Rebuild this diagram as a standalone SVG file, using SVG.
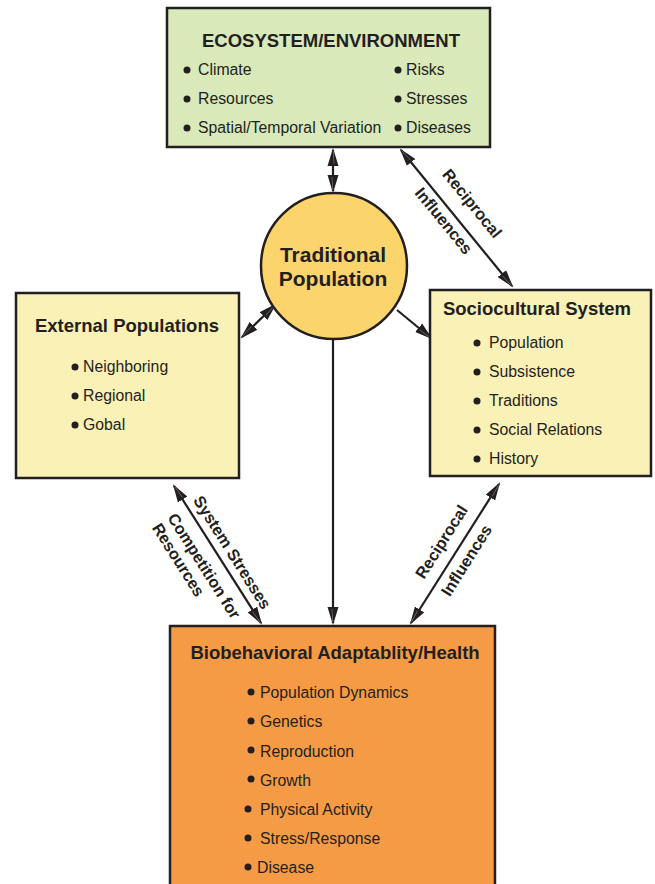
<svg xmlns="http://www.w3.org/2000/svg" width="655" height="884" viewBox="0 0 655 884">
  <style>
    .box { stroke: #231f20; stroke-width: 2.5; }
    .title { font-family: "Liberation Sans", Arial, sans-serif; font-weight: bold; font-size: 18.5px; fill: #231f20; text-anchor: middle; }
    .item { font-family: "Liberation Sans", Arial, sans-serif; font-size: 15.8px; fill: #231f20; }
    .dot { fill: #231f20; }
    .lbl { font-family: "Liberation Sans", Arial, sans-serif; font-weight: bold; font-size: 16.3px; fill: #231f20; }
    .link { stroke: #231f20; stroke-width: 2.2; fill: none; }
    .one { marker-end: url(#head); }
    .both { marker-start: url(#head); marker-end: url(#head); }
  </style>
  <defs>
    <marker id="head" viewBox="0 0 18 12" markerWidth="18" markerHeight="12" refX="16" refY="6" orient="auto-start-reverse" markerUnits="userSpaceOnUse">
      <path d="M0,0.5 L18,6 L0,11.5 Z" fill="#231f20"/>
      <path d="M2,7 L15,6.2" stroke="#8a8788" stroke-width="0.6"/>
    </marker>
  </defs>

  <rect width="655" height="884" fill="#ffffff"/>

  <g id="connectors">
    <path class="link both" d="M333,150 L333,191"/>
    <path class="link both" d="M401,150 L512,286"/>
    <path class="link one" d="M397,310 L431,338"/>
    <path class="link both" d="M275,305 L242,337"/>
    <path class="link one" d="M333,340 L333,623"/>
    <path class="link both" d="M174,486 L261,623"/>
    <path class="link both" d="M499,484 L411,623"/>
  </g>

  <g id="ecosystem">
    <rect class="box" x="167" y="8" width="323" height="139" fill="#d9e9ba"/>
    <text class="title" x="331" y="47">ECOSYSTEM/ENVIRONMENT</text>
    <circle class="dot" cx="187" cy="70" r="3.5"/>
    <text class="item" x="198" y="75">Climate</text>
    <circle class="dot" cx="187" cy="99" r="3.5"/>
    <text class="item" x="198" y="104">Resources</text>
    <circle class="dot" cx="187" cy="128" r="3.5"/>
    <text class="item" x="198" y="133">Spatial/Temporal Variation</text>
    <circle class="dot" cx="398" cy="70" r="3.5"/>
    <text class="item" x="406" y="75">Risks</text>
    <circle class="dot" cx="398" cy="99" r="3.5"/>
    <text class="item" x="406" y="104">Stresses</text>
    <circle class="dot" cx="398" cy="128" r="3.5"/>
    <text class="item" x="406" y="133">Diseases</text>
  </g>

  <g id="traditional-population">
    <circle class="box" cx="334" cy="266" r="73" fill="#fcd46c"/>
    <text class="title" x="333" y="262" style="font-size:21px">Traditional</text>
    <text class="title" x="333" y="286" style="font-size:21px">Population</text>
  </g>

  <g id="external-populations">
    <rect class="box" x="16" y="293" width="223" height="185" fill="#faf1b6"/>
    <text class="title" x="127" y="332">External Populations</text>
    <circle class="dot" cx="75" cy="367" r="3.5"/>
    <text class="item" x="83" y="372">Neighboring</text>
    <circle class="dot" cx="75" cy="396" r="3.5"/>
    <text class="item" x="83" y="401">Regional</text>
    <circle class="dot" cx="75" cy="425" r="3.5"/>
    <text class="item" x="83" y="430">Gobal</text>
  </g>

  <g id="sociocultural-system">
    <rect class="box" x="430" y="290" width="221" height="186" fill="#faf1b6"/>
    <text class="title" x="537" y="315">Sociocultural System</text>
    <circle class="dot" cx="477" cy="343" r="3.5"/>
    <text class="item" x="489" y="348">Population</text>
    <circle class="dot" cx="477" cy="372" r="3.5"/>
    <text class="item" x="489" y="377">Subsistence</text>
    <circle class="dot" cx="477" cy="401" r="3.5"/>
    <text class="item" x="489" y="406">Traditions</text>
    <circle class="dot" cx="477" cy="430" r="3.5"/>
    <text class="item" x="489" y="435">Social Relations</text>
    <circle class="dot" cx="477" cy="459" r="3.5"/>
    <text class="item" x="489" y="464">History</text>
  </g>

  <g id="biobehavioral">
    <rect class="box" x="170" y="626" width="325" height="270" fill="#f59b45"/>
    <text class="title" x="335" y="659">Biobehavioral Adaptablity/Health</text>
    <circle class="dot" cx="251" cy="692" r="3.5"/>
    <text class="item" x="260" y="698">Population Dynamics</text>
    <circle class="dot" cx="251" cy="721" r="3.5"/>
    <text class="item" x="260" y="727">Genetics</text>
    <circle class="dot" cx="251" cy="750" r="3.5"/>
    <text class="item" x="260" y="757">Reproduction</text>
    <circle class="dot" cx="251" cy="779" r="3.5"/>
    <text class="item" x="260" y="786">Growth</text>
    <circle class="dot" cx="248" cy="809" r="3.5"/>
    <text class="item" x="260" y="815">Physical Activity</text>
    <circle class="dot" cx="248" cy="838" r="3.5"/>
    <text class="item" x="260" y="844">Stress/Response</text>
    <circle class="dot" cx="248" cy="867" r="3.5"/>
    <text class="item" x="257" y="873">Disease</text>
  </g>

  <g id="connector-labels">
    <g transform="translate(457,217.5) rotate(50.9)">
      <text class="lbl" x="-43" y="-15">Reciprocal</text>
      <text class="lbl" x="-46" y="18">Influences</text>
    </g>
    <g transform="translate(217.5,554.5) rotate(57.7)">
      <text class="lbl" x="-59" y="-8">System Stresses</text>
      <text class="lbl" x="-58" y="23">Competition for</text>
      <text class="lbl" x="-58" y="41.5">Resources</text>
    </g>
    <g transform="translate(455,553.5) rotate(-57.8)">
      <text class="lbl" x="-39" y="-12">Reciprocal</text>
      <text class="lbl" x="-40" y="19">Influences</text>
    </g>
  </g>
</svg>
